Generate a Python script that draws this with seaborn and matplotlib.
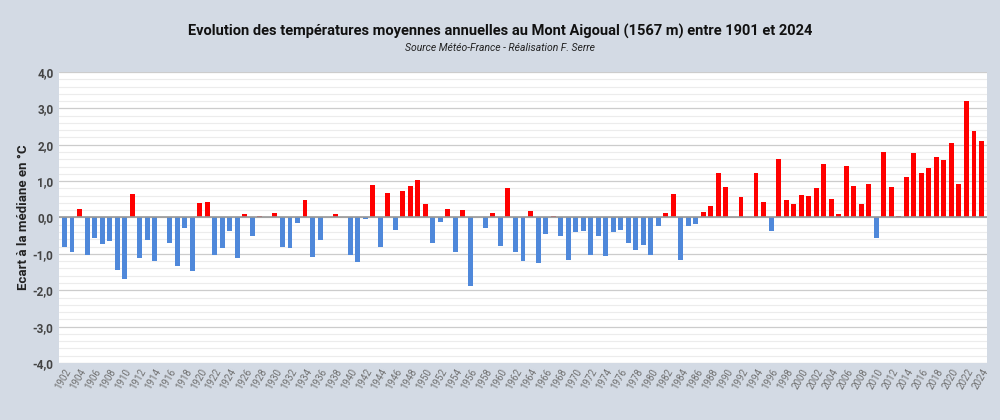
import matplotlib
matplotlib.use("Agg")
import matplotlib.pyplot as plt
import matplotlib.ticker as mticker
import numpy as np
import pandas as pd
import seaborn as sns

years = list(range(1902, 2025))
ecarts = [
    -0.81, -0.94, 0.22, -1.04, -0.55, -0.73, -0.64, -1.44, -1.70, 0.64,
    -1.11, -0.61, -1.20, 0.00, -0.69, -1.33, -0.30, -1.47, 0.40, 0.42,
    -1.04, -0.83, -0.37, -1.11, 0.09, -0.52, 0.03, 0.01, 0.12, -0.81,
    -0.83, -0.16, 0.48, -1.08, -0.61, 0.00, 0.09, 0.00, -1.04, -1.22,
    -0.03, 0.88, -0.80, 0.66, -0.33, 0.72, 0.86, 1.04, 0.36, -0.71,
    -0.12, 0.23, -0.94, 0.20, -1.88, 0.01, -0.28, 0.12, -0.78, 0.81,
    -0.94, -1.20, 0.18, -1.26, -0.45, 0.05, -0.50, -1.17, -0.39, -0.38,
    -1.04, -0.51, -1.06, -0.39, -0.33, -0.69, -0.89, -0.76, -1.04, -0.23,
    0.13, 0.64, -1.17, -0.23, -0.17, 0.15, 0.31, 1.23, 0.85, 0.01,
    0.57, 0.01, 1.23, 0.42, -0.38, 1.61, 0.48, 0.38, 0.61, 0.59,
    0.80, 1.47, 0.52, 0.09, 1.41, 0.87, 0.38, 0.92, -0.56, 1.80,
    0.85, 0.04, 1.11, 1.77, 1.21, 1.35, 1.66, 1.59, 2.04, 0.92,
    3.19, 2.37, 2.10,
]

df = pd.DataFrame({"annee": [str(y) for y in years], "ecart": ecarts})
df["signe"] = np.where(df["ecart"] >= 0, "pos", "neg")

sns.set_style("white")
plt.rcParams["font.family"] = ["Roboto", "DejaVu Sans"]

bg = "#d3dae4"
fig = plt.figure(figsize=(10, 4.2), dpi=100, facecolor=bg)
ax = fig.add_axes([0.059, 0.1357, 0.928, 0.6929])
ax.set_facecolor("white")

sns.barplot(data=df, x="annee", y="ecart", hue="signe",
            palette={"pos": "#ff0000", "neg": "#4f88da"}, saturation=1,
            dodge=False, width=0.66, linewidth=0, legend=False, ax=ax, zorder=3)

ax.set_ylim(-4, 4)
ax.set_xlim(-0.73, len(years) - 1 + 0.73)
ax.yaxis.set_major_locator(mticker.MultipleLocator(1))
ax.yaxis.set_minor_locator(mticker.MultipleLocator(0.2))
ax.yaxis.set_major_formatter(mticker.FuncFormatter(lambda v, p: f"{v:.1f}".replace(".", ",")))
ax.grid(axis="y", which="major", color="#cccccc", lw=0.9, zorder=0)
ax.grid(axis="y", which="minor", color="#ececec", lw=0.8, zorder=0)
ax.axhline(0, color="#999999", lw=1.2, zorder=4)
for s in ax.spines.values():
    s.set_visible(False)

ax.set_xticks(range(0, len(years), 2))
ax.set_xticklabels(years[::2], rotation=60, ha="right", rotation_mode="anchor",
                   fontsize=7, color="#707070")
ax.tick_params(axis="x", length=0, pad=3)
ax.tick_params(axis="y", length=0, labelsize=8.5, labelcolor="#444444", pad=4)
for t in ax.get_yticklabels():
    t.set_fontweight("bold")

ax.set_xlabel("")
ax.set_ylabel("Ecart à la médiane en °C", fontsize=9.5, fontweight="bold", color="#222222", labelpad=2)

fig.text(0.5, 0.925, "Evolution des températures moyennes annuelles au Mont Aigoual (1567 m) entre 1901 et 2024",
         ha="center", va="center", fontsize=10.5, fontweight="bold", color="#111111")
fig.text(0.5, 0.886, "Source Météo-France - Réalisation F. Serre",
         ha="center", va="center", fontsize=7.5, style="italic", color="#222222")

fig.savefig("out.png", dpi=100, facecolor=bg)
